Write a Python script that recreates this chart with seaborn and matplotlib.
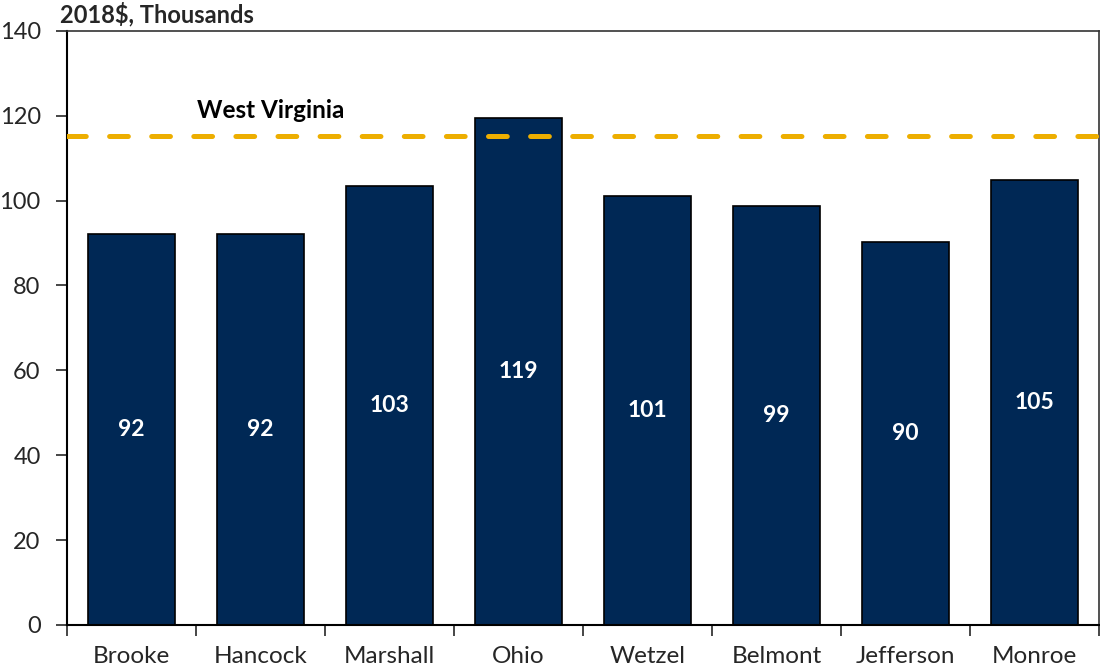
import matplotlib
matplotlib.use("Agg")
import matplotlib.pyplot as plt
import seaborn as sns
import numpy as np

counties = ["Brooke", "Hancock", "Marshall", "Ohio", "Wetzel", "Belmont", "Jefferson", "Monroe"]
values = [92.2, 92.1, 103.4, 119.5, 101.1, 98.7, 90.2, 104.8]
labels = ["92", "92", "103", "119", "101", "99", "90", "105"]
wv_value = 115.3
wv_label = "West Virginia"
y_title = "2018$, Thousands"

sns.set_style("white")
plt.rcParams['font.family'] = ['Lato', 'DejaVu Sans']

fig = plt.figure(figsize=(11, 6.71), dpi=100)
ax = fig.add_axes([0.061, 0.0686, 0.938, 0.8854])

sns.barplot(x=counties, y=values, color="#002855", saturation=1, edgecolor="black",
            linewidth=1.2, width=0.67, ax=ax)

for i, (v, lab) in enumerate(zip(values, labels)):
    ax.text(i, v / 2, lab, ha="center", va="center", color="white",
            fontsize=16.5, fontweight="bold")

ax.axhline(wv_value, color="#EDAE00", lw=3.6, ls=(0, (3.75, 4.67)),
           dash_capstyle="round", zorder=3)
ax.text(0.51, 121.2, wv_label, ha="left", va="center", fontsize=17.5,
        fontweight="bold", color="black")

ax.set_xlim(-0.5, 7.5)
ax.set_ylim(0, 140)
ax.set_yticks(np.arange(0, 141, 20))
ax.tick_params(axis="y", which="major", direction="out", length=8, width=1.2,
               labelsize=17, left=True, pad=11)
ax.set_xticks(range(len(counties)))
ax.set_xticklabels(counties, fontsize=17.5)
ax.tick_params(axis="x", which="major", length=0, pad=15)
ax.set_xticks(np.arange(-0.5, 8.0, 1.0), minor=True)
ax.tick_params(axis="x", which="minor", direction="out", length=8, width=1.2, bottom=True)
ax.set_xlabel("")
ax.set_ylabel("")

for s in ["left", "bottom"]:
    ax.spines[s].set_color("black")
    ax.spines[s].set_linewidth(1.5)
for s in ["top", "right"]:
    ax.spines[s].set_color("#333333")
    ax.spines[s].set_linewidth(1.2)

fig.text(0.0545, 0.967, y_title, ha="left", va="baseline", fontsize=17, fontweight="bold")

fig.savefig("out.png", dpi=100)
